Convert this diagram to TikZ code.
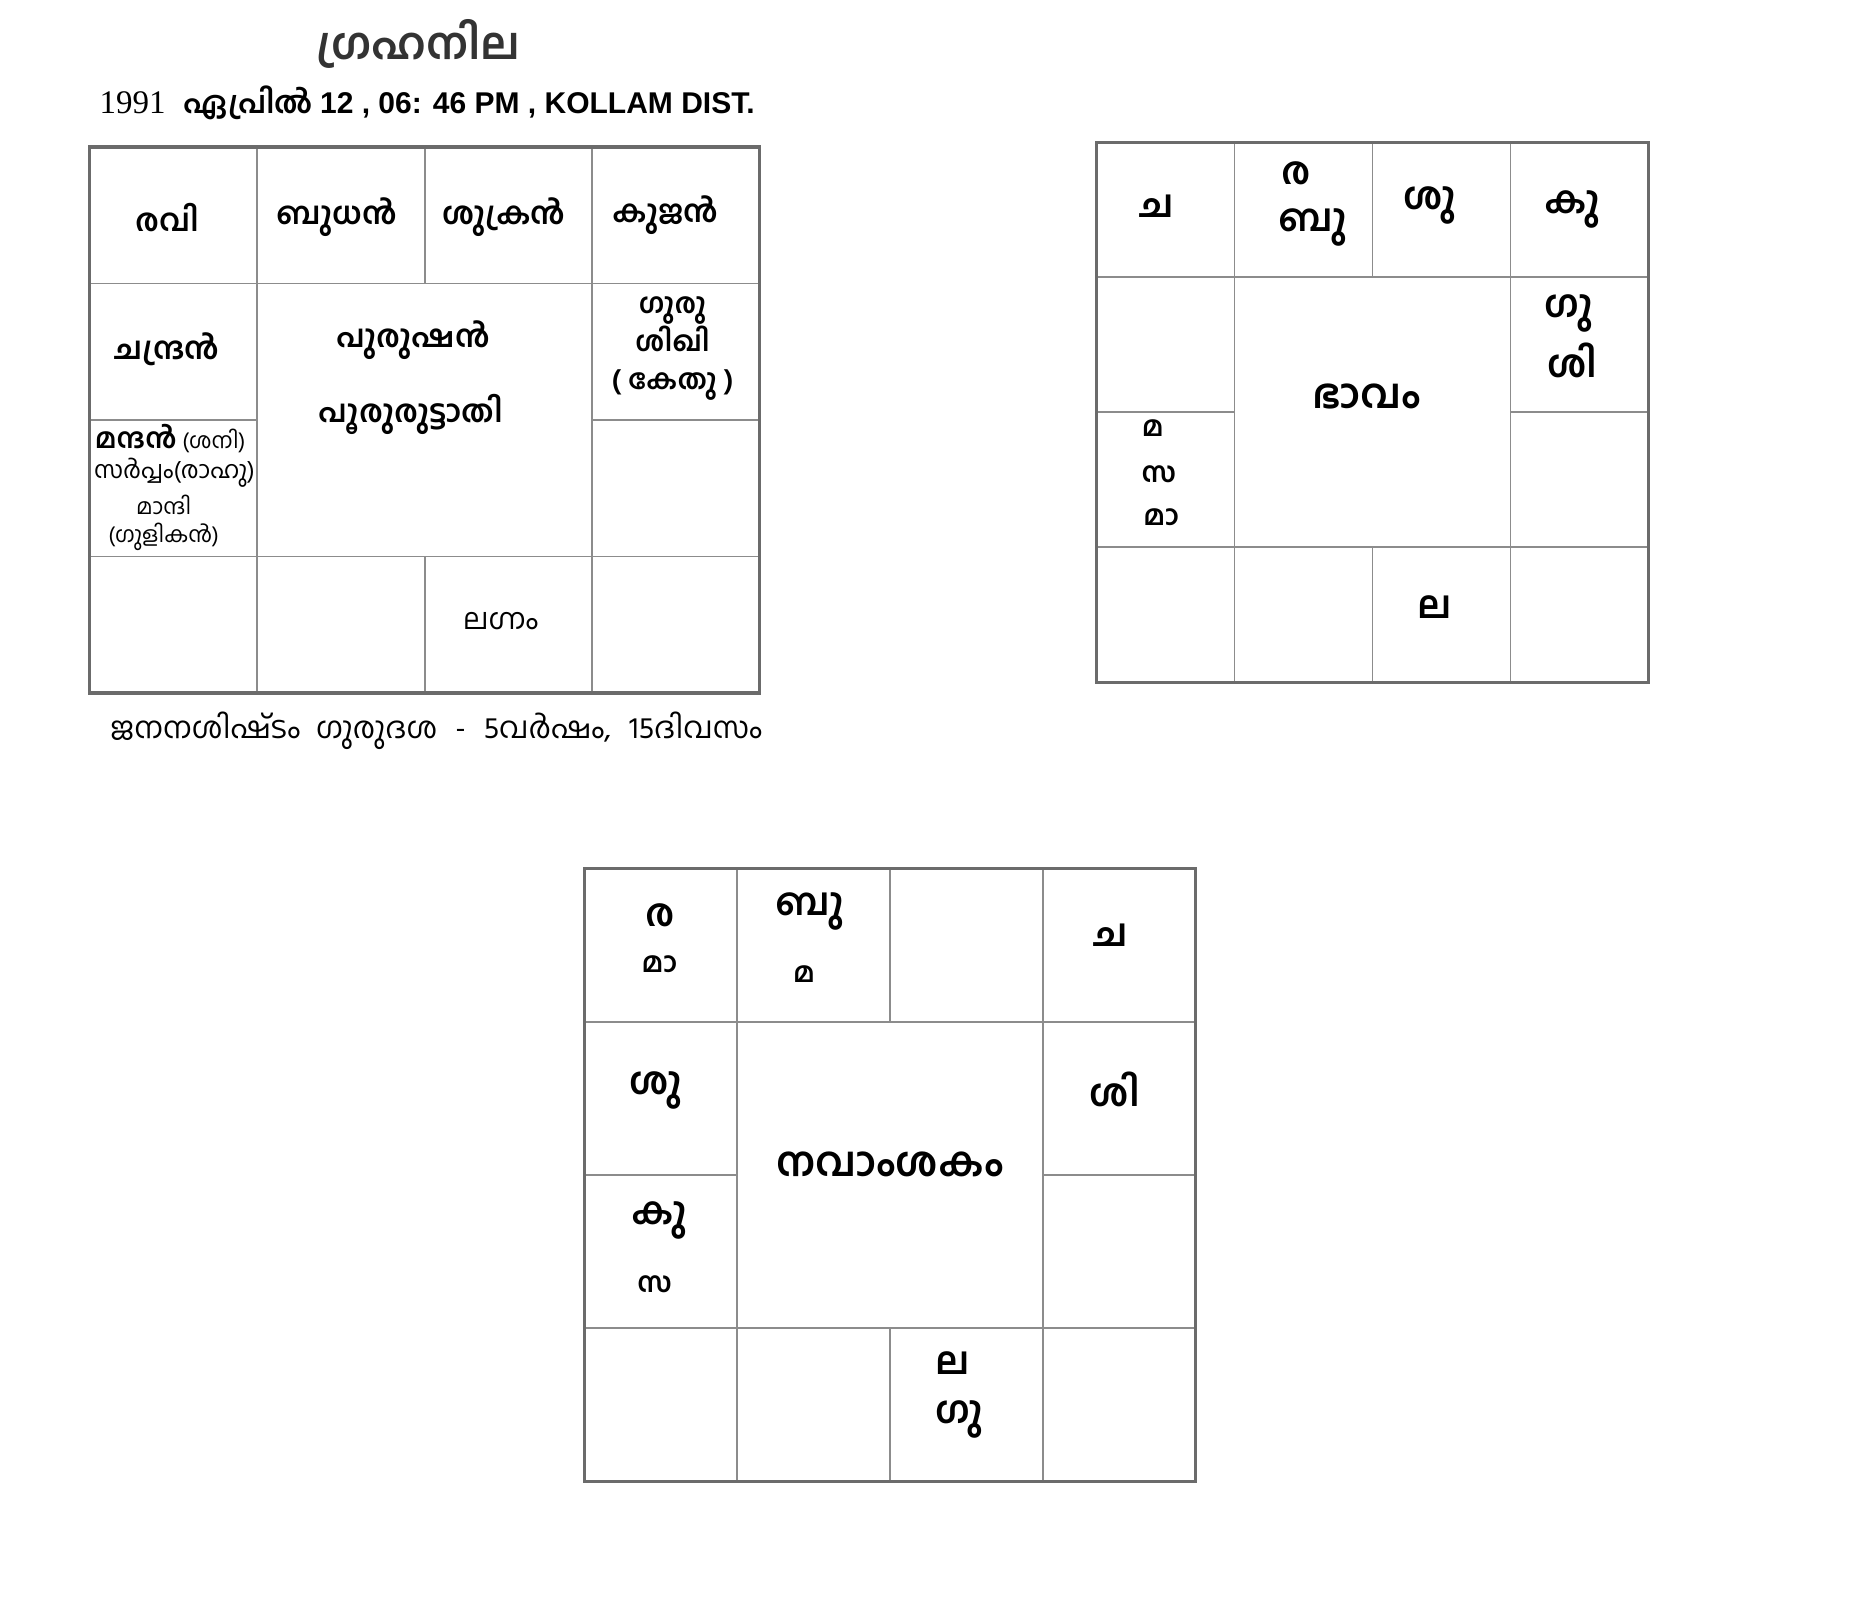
\documentclass[tikz,border=0pt]{standalone}
\usepackage{fontspec}
\setmainfont{Liberation Sans}
\newfontfamily\ml[Script=Malayalam]{Hind Kochi}
\newfontfamily\tms{Liberation Serif}

% one chart: x0, y0, width, height
\newcommand{\rasichart}[4]{%
  \foreach \k in {1,3} {
    \draw[gridline] ({#1+\k*#3/4},#2) -- ++(0,#4);
    \draw[gridline] (#1,{#2+\k*#4/4}) -- ++(#3,0);
  }
  \draw[gridline] ({#1+#3/2},#2) -- ++(0,{#4/4});
  \draw[gridline] ({#1+#3/2},{#2+#4*3/4}) -- ++(0,{#4/4});
  \draw[gridline] (#1,{#2+#4/2}) -- ++({#3/4},0);
  \draw[gridline] ({#1+#3*3/4},{#2+#4/2}) -- ++({#3/4},0);
  \draw[outerline] (#1,#2) rectangle ++(#3,#4);
}

\tikzset{
  gridline/.style={draw=black!45, line width=0.8pt},
  outerline/.style={draw=black!58, line width=1.6pt},
  graha/.style={font=\ml\bfseries\fontsize{15.5}{20}\selectfont, inner sep=0pt},
  plain/.style={font=\ml\fontsize{12}{15}\selectfont, inner sep=0pt},
  chip/.style={font=\ml\bfseries\fontsize{19}{23}\selectfont, inner sep=0pt},
  chipsmall/.style={font=\ml\bfseries\fontsize{14}{17}\selectfont, inner sep=0pt},
  centre/.style={font=\ml\bfseries\fontsize{20.5}{24}\selectfont, inner sep=0pt},
}

\begin{document}
\begin{tikzpicture}[x=0.5973pt, y=-0.5973pt]
\useasboundingbox[fill=white] (0,0) rectangle (1567,1336);

% Heading
\node[font=\ml\bfseries\fontsize{22}{26}\selectfont, text=black!80, inner sep=0pt] (title) at (350,37) {ഗ്രഹനില};
\node[anchor=west, inner sep=0pt] (date) at (83,86) {{\tms\fontsize{16.5}{20}\selectfont 1991}\hspace{0.9em}{\ml\bfseries\fontsize{15.2}{20}\selectfont ഏപ്രിൽ}\hspace{0.35em}{\bfseries\fontsize{15}{20}\selectfont 12 , 06: 46 PM , KOLLAM DIST.}};

% Grahanila chart
\rasichart{75}{123}{561}{457}
\node[graha] (ravi) at (140,182) {രവി};
\node[graha] (budhan) at (282,182) {ബുധൻ};
\node[graha] (shukran) at (422,182) {ശുക്രൻ};
\node[graha] (kujan) at (557,180) {കുജൻ};
\node[graha] (chandran) at (140,292) {ചന്ദ്രൻ};
\node[graha] (purushan) at (346,285) {പുരുഷൻ};
\node[graha] (nakshatram) at (344,347) {പൂരുരുട്ടാതി};
\node[graha, align=center, font=\ml\bfseries\fontsize{14}{19}\selectfont] (guru) at (563,292) {ഗുരു\\ശിഖി\\( കേതു )};
\node[anchor=west, inner sep=0pt] (mandan) at (79,367) {{\ml\bfseries\fontsize{14}{16}\selectfont മന്ദൻ} {\ml\fontsize{11}{14}\selectfont (ശനി)}};
\node[plain] (sarppam) at (146,396) {സർപ്പം(രാഹു)};
\node[plain, align=center, font=\ml\fontsize{11}{14}\selectfont] (mandi) at (137,438) {മാന്ദി\\(ഗുളികൻ)};
\node[plain, font=\ml\fontsize{14.6}{16}\selectfont] (lagnam) at (419,520) {ലഗ്നം};
\node[anchor=west, plain, font=\ml\fontsize{15}{18}\selectfont] (dasha) at (92,612) {ജനനശിഷ്^^^^200cടം\hspace{8pt}ഗുരുദശ\hspace{9pt}-\hspace{9pt}5വർഷം,\hspace{9pt}15ദിവസം};

% Bhavam chart
\rasichart{918}{119}{462}{452}
\node[chip] (b-cha) at (968,173) {ച};
\node[chip] (b-ra) at (1085,145) {ര};
\node[chip] (b-bu) at (1099,190) {ബു};
\node[chip] (b-shu) at (1197,172) {ശു};
\node[chip] (b-ku) at (1316,175) {കു};
\node[chip] (b-gu) at (1313,262) {ഗു};
\node[chip] (b-shi) at (1316,302) {ശി};
\node[centre] (bhavam) at (1144,332) {ഭാവം};
\node[chipsmall] (b-ma) at (965,358) {മ};
\node[chipsmall] (b-sa) at (970,397) {സ};
\node[chipsmall] (b-maa) at (972,433) {മാ};
\node[chip] (b-la) at (1201,508) {ല};

% Navamsakam chart
\rasichart{489}{727}{512}{513}
\node[chip] (n-ra) at (553,766) {ര};
\node[chipsmall] (n-maa) at (552,807) {മാ};
\node[chip] (n-bu) at (678,763) {ബു};
\node[chipsmall] (n-ma) at (673,815) {മ};
\node[chip] (n-cha) at (930,783) {ച};
\node[chip] (n-shu) at (549,913) {ശു};
\node[chip] (n-shi) at (933,912) {ശി};
\node[centre] (navamsakam) at (745,975) {നവാംശകം};
\node[chip] (n-ku) at (552,1022) {കു};
\node[chipsmall] (n-sa) at (548,1075) {സ};
\node[chip] (n-la) at (797,1141) {ല};
\node[chip] (n-gu) at (803,1188) {ഗു};
\end{tikzpicture}
\end{document}
